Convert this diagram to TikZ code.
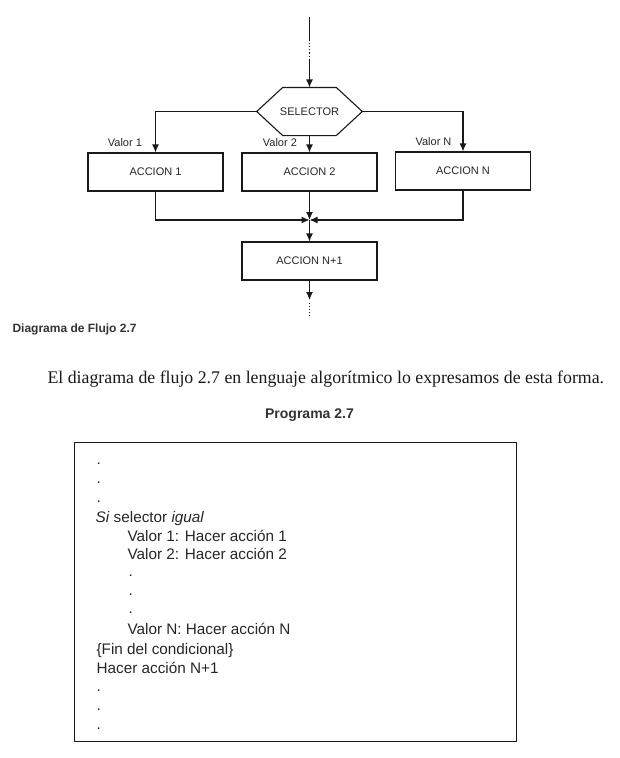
\documentclass[tikz,border=0pt]{standalone}
\usepackage{fontspec}
\setmainfont{Liberation Serif}
\setsansfont{Liberation Sans}
\usetikzlibrary{arrows.meta}

\begin{document}
\begin{tikzpicture}[x=1pt,y=-1pt,
  line width=1.1pt,
  ink/.style={draw=black!90},
  flow/.style={ink, -{Latex[length=8pt,width=7pt]}},
  stepbox/.style={ink, minimum width=135pt, minimum height=38pt, inner sep=0pt,
    font=\sffamily\fontsize{11}{13}\selectfont, text=black!85},
  valor/.style={anchor=base east, inner sep=0pt,
    font=\sffamily\fontsize{11}{13}\selectfont, text=black!85},
  prog/.style={anchor=base west, inner sep=0pt,
    font=\sffamily\fontsize{15.3}{18}\selectfont, text=black!85},
  caption/.style={inner sep=0pt, font=\sffamily\bfseries, text=black!80}]

\useasboundingbox (0,0) rectangle (620,758);

% ---------- flowchart ----------
\coordinate (in0) at (309.5,17);
\coordinate (in1) at (309.5,40);
\coordinate (in2) at (309.5,60);

\node[minimum width=104.5pt, minimum height=47pt, inner sep=0pt,
      font=\sffamily\fontsize{11}{13}\selectfont, text=black!85]
  (sel) at (309.5,111.5) {SELECTOR};
\draw[ink] (sel.west) -- ([xshift=26pt]sel.north west) -- ([xshift=-26pt]sel.north east)
  -- (sel.east) -- ([xshift=-26pt]sel.south east) -- ([xshift=26pt]sel.south west) -- cycle;

\node[stepbox] (a1) at (155.5,172) {ACCION 1};
\node[stepbox] (a2) at (309.5,172) {ACCION 2};
\node[stepbox] (aN) at (463,171) {ACCION N};
\node[stepbox] (aN1) at (309.5,261) {ACCION N+1};

\coordinate (join) at (309.5,220);
\coordinate (out1) at (309.5,300);
\coordinate (out2) at (309.5,316);

\draw[ink] (in0) -- (in1);
\draw[ink, dotted] (in1) -- (in2);
\draw[flow] (in2) -- (sel.north);

\draw[flow] (sel.west) -| (a1.north);
\draw[flow] (sel.south) -- (a2.north);
\draw[flow] (sel.east) -| (aN.north);

\node[valor] (v1) at ([xshift=-13pt,yshift=6pt]a1.north) {Valor 1};
\node[valor] (v2) at ([xshift=-12pt,yshift=6pt]a2.north) {Valor 2};
\node[valor] (vN) at ([xshift=-11pt,yshift=6pt]aN.north) {Valor N};

\draw[flow] (a1.south) |- (join);
\draw[flow] (aN.south) |- (join);
\draw[flow] (a2.south) -- (join);
\draw[flow] (join) -- (aN1.north);
\draw[flow] (aN1.south) -- (out1);
\draw[ink, dotted] ([yshift=-3pt]out1) -- (out2);

% ---------- captions ----------
\node[caption, anchor=base west, font=\sffamily\bfseries\fontsize{12}{14}\selectfont]
  (cap) at (12,332.7) {Diagrama de Flujo 2.7};
\node[anchor=base west, inner sep=0pt, font=\fontsize{17.8}{21}\selectfont, text=black!90]
  (sent) at (47,383) {El diagrama de flujo 2.7 en lenguaje algorítmico lo expresamos de esta forma.};
\node[caption, anchor=base, font=\sffamily\bfseries\fontsize{14}{16}\selectfont]
  (prg) at (309.5,418.3) {Programa 2.7};

% ---------- program listing ----------
\node[ink, line width=1.2pt, minimum width=442pt, minimum height=299.5pt, inner sep=0pt,
      anchor=north west] (frame) at (74,441.5) {};

\node[prog] (d1) at (96,464) {.};
\node[prog] (d2) at (96,483.5) {.};
\node[prog] (d3) at (96,502.5) {.};
\node[prog] (l1) at (95,522) {\textit{Si} selector \textit{igual}};
\node[prog] (l2) at (127,541) {Valor 1: Hacer acción 1};
\node[prog] (l3) at (127,559.5) {Valor 2: Hacer acción 2};
\node[prog] (d4) at (128,576.5) {.};
\node[prog] (d5) at (128,595.5) {.};
\node[prog] (d6) at (128,613.5) {.};
\node[prog] (l4) at (127,634.5) {Valor N: Hacer acción N};
\node[prog] (l5) at (96,654.5) {\{Fin del condicional\}};
\node[prog] (l6) at (96,673.5) {Hacer acción N+1};
\node[prog] (d7) at (96,691.5) {.};
\node[prog] (d8) at (96,710.5) {.};
\node[prog] (d9) at (96,729.5) {.};

\end{tikzpicture}
\end{document}
